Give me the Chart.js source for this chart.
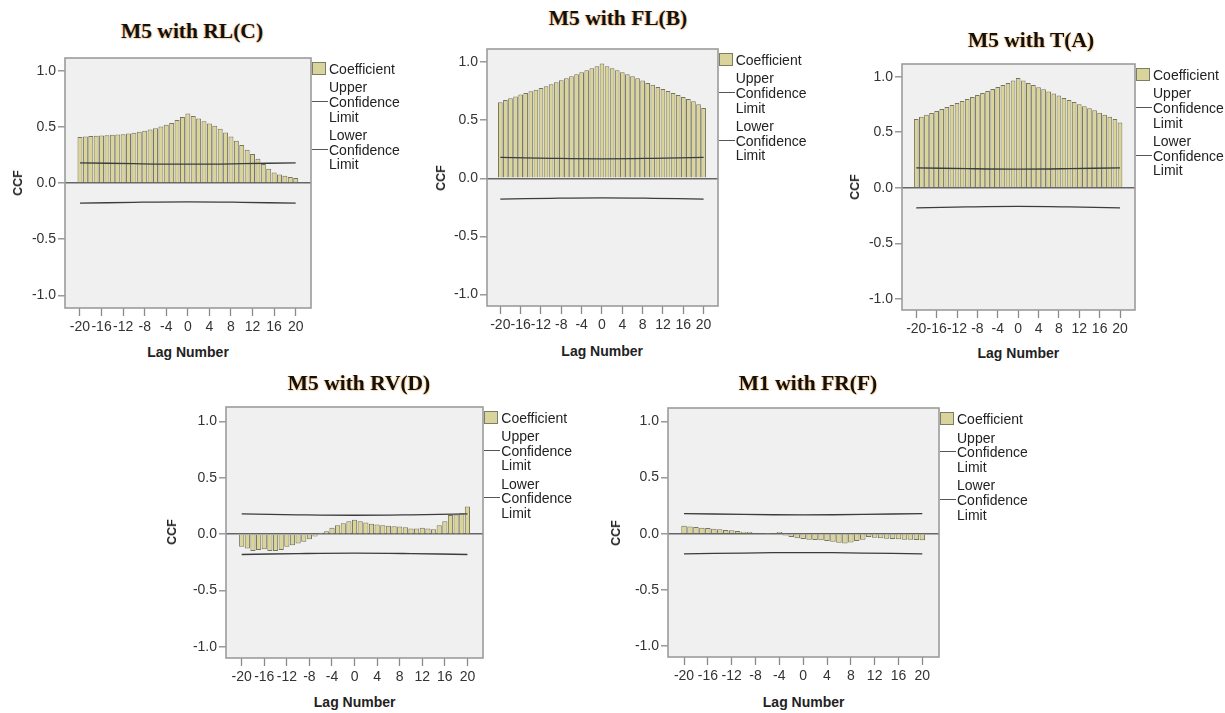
<!DOCTYPE html>
<html>
<head>
<meta charset="utf-8">
<script src="https://cdn.jsdelivr.net/npm/chart.js@4.4.1/dist/chart.umd.min.js"></script>
<style>
  html, body { margin: 0; padding: 0; background: #ffffff; }
  body { width: 1225px; height: 713px; position: relative; overflow: hidden; font-family: "Liberation Sans", Arial, sans-serif; }
  canvas { position: absolute; }
  .title { position: absolute; transform: translate(-50%, -50%); white-space: nowrap;
    font-family: "Liberation Serif", "Times New Roman", serif; font-weight: bold; font-size: 21.5px; color: #111;
    text-shadow: -1px 0 1px rgba(255,140,0,0.45), 1px 1px 1px rgba(230,150,40,0.35); }
  .ylab { position: absolute; transform: translate(-50%, -50%) rotate(-90deg); font-weight: bold; font-size: 12.5px; color: #222; white-space: nowrap; }
  .xlab { position: absolute; transform: translate(-50%, -50%); font-weight: bold; font-size: 14px; color: #222; white-space: nowrap; }
  .legend { position: absolute; font-size: 14px; line-height: 14.7px; color: #222; white-space: nowrap; }
  .swatch { position: absolute; width: 12px; height: 11px; background: #d9d49b; border: 1px solid #7e7c66; }
  .mark { position: absolute; height: 0; border-top: 1.3px solid #555; width: 16px; }
</style>
</head>
<body>
<script>
// ---------------- data ----------------
const lags = [-20,-19,-18,-17,-16,-15,-14,-13,-12,-11,-10,-9,-8,-7,-6,-5,-4,-3,-2,-1,0,1,2,3,4,5,6,7,8,9,10,11,12,13,14,15,16,17,18,19,20];
const xTickLabels = [-20,-16,-12,-8,-4,0,4,8,12,16,20];
const yTickLabels = [-1.0,-0.5,0.0,0.5,1.0];
const ciLags = [-20,-10,0,10,20];
const upperLimit = [0.18,0.172,0.168,0.172,0.18];
const lowerLimit = [-0.18,-0.172,-0.168,-0.172,-0.18];

const ccfRL = [0.41,0.415,0.418,0.42,0.424,0.426,0.43,0.432,0.435,0.44,
               0.447,0.456,0.465,0.476,0.488,0.503,0.518,0.535,0.56,0.588,
               0.618,
               0.597,0.574,0.55,0.53,0.51,0.482,0.45,0.415,0.376,0.338,
               0.297,0.259,0.215,0.17,0.126,0.094,0.076,0.065,0.053,0.044];
const ccfFL = [0.655,0.675,0.69,0.704,0.721,0.736,0.75,0.764,0.779,0.793,
               0.81,0.828,0.845,0.862,0.879,0.897,0.914,0.931,0.948,0.966,
               0.989,
               0.966,0.948,0.931,0.914,0.897,0.879,0.862,0.842,0.822,0.805,
               0.787,0.77,0.753,0.736,0.718,0.701,0.684,0.664,0.638,0.606];
const ccfT  = [0.618,0.64,0.658,0.673,0.691,0.709,0.727,0.745,0.763,0.781,
               0.799,0.818,0.836,0.854,0.872,0.89,0.908,0.926,0.944,0.965,
               0.989,
               0.965,0.944,0.926,0.905,0.887,0.866,0.848,0.83,0.808,0.79,
               0.772,0.751,0.733,0.715,0.697,0.676,0.658,0.64,0.618,0.588];
const ccfRV = [-0.112,-0.127,-0.15,-0.139,-0.133,-0.148,-0.15,-0.139,-0.112,-0.098,
               -0.083,-0.068,-0.044,-0.02,0.012,0.027,0.056,0.08,0.098,0.115,
               0.127,
               0.115,0.104,0.092,0.086,0.08,0.074,0.071,0.068,0.062,0.05,
               0.05,0.056,0.05,0.044,0.08,0.115,0.169,0.175,0.186,0.246];
const ccfFR = [0.071,0.065,0.059,0.053,0.05,0.044,0.039,0.033,0.03,0.024,
               0.018,0.015,0.009,0.006,0.003,-0.006,0.015,-0.015,-0.03,-0.041,
               -0.047,
               -0.053,-0.056,-0.059,-0.065,-0.071,-0.08,-0.086,-0.077,-0.065,-0.053,
               -0.03,-0.036,-0.041,-0.044,-0.047,-0.05,-0.053,-0.053,-0.056,-0.059];

const panelTitles = ["M5 with RL(C)", "M5 with FL(B)", "M5 with T(A)", "M5 with RV(D)", "M1 with FR(F)"];
const panelSeries = [ccfRL, ccfFL, ccfT, ccfRV, ccfFR];
const yAxisTitle = "CCF";
const xAxisTitle = "Lag Number";
const legendLabels = ["Coefficient", "Upper Confidence Limit", "Lower Confidence Limit"];

// ---------------- layout (plot box in page pixels) ----------------
const layouts = [
  { L: 65,    T: 58,    R: 311,   B: 308,   xMin: -22.78, xMax: 22.84, yMin: -1.113, yMax: 1.113, tx: 192, ty: 31, ylx: 18,  xly: 352 },
  { L: 486.7, T: 49,    R: 717.7, B: 306,   xMin: -22.62, xMax: 22.83, yMin: -1.10,  yMax: 1.114, tx: 618, ty: 18, ylx: 441, xly: 351 },
  { L: 901.7, T: 64,    R: 1135,  B: 310,   xMin: -22.8,  xMax: 22.94, yMin: -1.10,  yMax: 1.114, tx: 1031, ty: 40, ylx: 855, xly: 352.7 },
  { L: 226,   T: 406.7, R: 483.3, B: 657.7, xMin: -22.78, xMax: 22.76, yMin: -1.097, yMax: 1.127, tx: 359, ty: 383, ylx: 172, xly: 701.7 },
  { L: 668.3, T: 408.3, R: 939,   B: 657.7, xMin: -22.69, xMax: 22.8,  yMin: -1.098, yMax: 1.12,  tx: 808, ty: 383, ylx: 616, xly: 701.7 }
];

const Y_AXIS_W = 50, X_AXIS_H = 34, PAD_T = 12, PAD_R = 12;

const boxPlugin = {
  id: 'box',
  beforeDraw(chart) {
    const a = chart.chartArea, c = chart.ctx;
    c.save(); c.fillStyle = '#f0f0f0'; c.fillRect(a.left, a.top, a.right - a.left, a.bottom - a.top); c.restore();
  },
  afterDraw(chart) {
    const a = chart.chartArea, c = chart.ctx;
    c.save(); c.strokeStyle = '#9c9c9c'; c.lineWidth = 1.6;
    c.strokeRect(a.left, a.top, a.right - a.left, a.bottom - a.top); c.restore();
  }
};

function addDiv(cls, text, x, y, html) {
  const d = document.createElement('div');
  d.className = cls;
  if (html) d.innerHTML = text; else d.textContent = text;
  d.style.left = x + 'px'; d.style.top = y + 'px';
  document.body.appendChild(d);
  return d;
}

panelSeries.forEach((series, p) => {
  const g = layouts[p];
  const W = (g.R - g.L) + Y_AXIS_W + PAD_R;
  const H = (g.B - g.T) + PAD_T + X_AXIS_H;
  const cv = document.createElement('canvas');
  cv.width = Math.round(W); cv.height = Math.round(H);
  cv.style.left = (g.L - Y_AXIS_W) + 'px';
  cv.style.top = (g.T - PAD_T) + 'px';
  document.body.appendChild(cv);

  const barData = lags.map((x, i) => ({ x: x, y: series[i] }));
  const upData = ciLags.map((x, i) => ({ x: x, y: upperLimit[i] }));
  const loData = ciLags.map((x, i) => ({ x: x, y: lowerLimit[i] }));

  new Chart(cv, {
    type: 'bar',
    data: {
      datasets: [
        { type: 'line', label: legendLabels[1], data: upData, borderColor: '#3c3c3c', borderWidth: 1.3, pointRadius: 0, tension: 0.4, order: 0 },
        { type: 'line', label: legendLabels[2], data: loData, borderColor: '#3c3c3c', borderWidth: 1.3, pointRadius: 0, tension: 0.4, order: 0 },
        { type: 'bar', label: legendLabels[0], data: barData, backgroundColor: '#dad497', borderColor: '#77755f', borderWidth: 1,
          barPercentage: 0.92, categoryPercentage: 1, order: 1 }
      ]
    },
    options: {
      responsive: false, animation: false, events: [],
      layout: { padding: { top: PAD_T, right: PAD_R, left: 0, bottom: 0 } },
      plugins: { legend: { display: false }, tooltip: { enabled: false } },
      scales: {
        x: {
          type: 'linear', min: g.xMin, max: g.xMax, offset: false,
          afterBuildTicks: s => { s.ticks = xTickLabels.map(v => ({ value: v })); },
          afterFit: s => { s.height = X_AXIS_H; },
          grid: { drawOnChartArea: false, offset: false, tickLength: 8, tickColor: '#8a8a8a', tickWidth: 1.3 },
          border: { display: false },
          ticks: { autoSkip: false, maxRotation: 0, minRotation: 0, padding: 3, color: '#333',
                   font: { family: 'Liberation Sans', size: 14 }, callback: v => String(v) }
        },
        y: {
          type: 'linear', min: g.yMin, max: g.yMax,
          afterBuildTicks: s => { s.ticks = yTickLabels.map(v => ({ value: v })); },
          afterFit: s => { s.width = Y_AXIS_W; },
          grid: { drawOnChartArea: true, tickLength: 7, tickColor: '#8a8a8a', tickWidth: 1.3,
                  color: ctx => (ctx.tick && ctx.tick.value === 0) ? '#666666' : 'rgba(0,0,0,0)', lineWidth: 1.6 },
          border: { display: false },
          ticks: { padding: 2, color: '#333', font: { family: 'Liberation Sans', size: 14 },
                   callback: v => Number(v).toFixed(1) }
        }
      }
    },
    plugins: [boxPlugin]
  });

  // texts
  addDiv('title', panelTitles[p], g.tx, g.ty);
  addDiv('ylab', yAxisTitle, g.ylx, (g.T + g.B) / 2);
  addDiv('xlab', xAxisTitle, (g.L + g.R) / 2, g.xly);

  // legend
  addDiv('swatch', '', g.R + 1, g.T + 4);
  addDiv('legend',
    '<div>' + legendLabels[0] + '</div>' +
    '<div style="margin-top:3.6px">' + legendLabels[1].split(' ').join('<br>') + '</div>' +
    '<div style="margin-top:3.6px">' + legendLabels[2].split(' ').join('<br>') + '</div>',
    g.R + 18, g.T + 4, true);
  addDiv('mark', '', g.R + 1, g.T + 43);
  addDiv('mark', '', g.R + 1, g.T + 90.5);
});
</script>
</body>
</html>
